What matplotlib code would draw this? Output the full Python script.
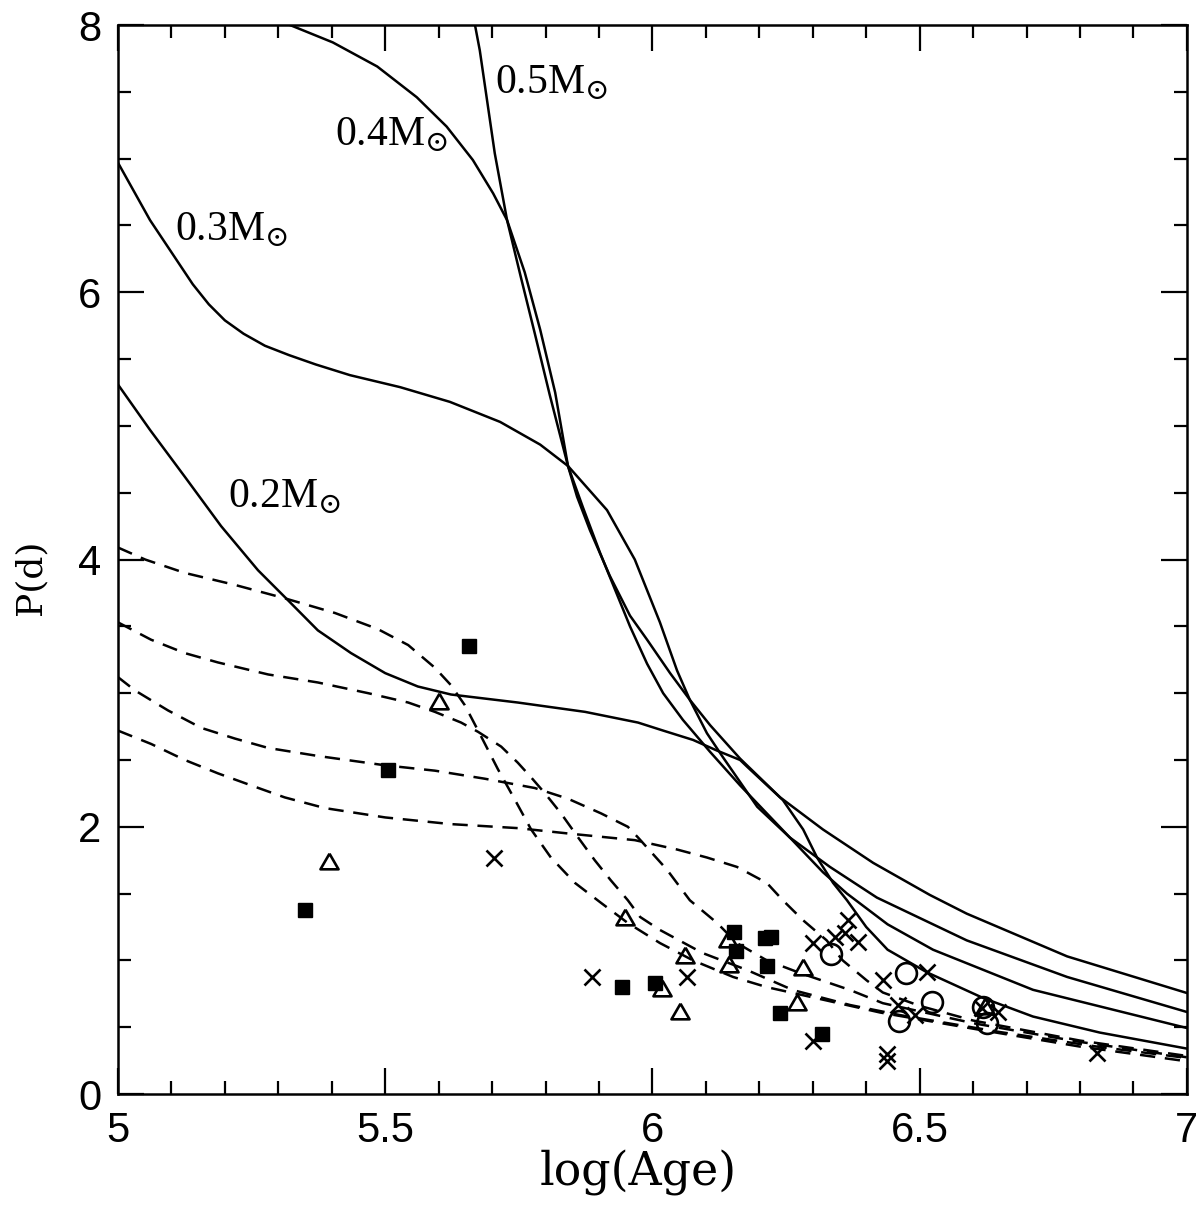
import matplotlib
matplotlib.use('Agg')
import matplotlib.pyplot as plt
from matplotlib.ticker import MultipleLocator, FixedLocator, FixedFormatter

# --- model tracks (solid) : log(Age), P(d) ---
m02_x = [5.000, 5.060, 5.125, 5.193, 5.262, 5.312, 5.374, 5.436, 5.500, 5.561, 5.623, 5.748, 5.874,
         5.973, 6.020, 6.076, 6.121, 6.164, 6.177, 6.244, 6.282, 6.308, 6.338, 6.364, 6.400, 6.440,
         6.514, 6.618, 6.712, 6.837, 7.000]
m02_y = [5.31, 4.97, 4.62, 4.25, 3.92, 3.72, 3.47, 3.30, 3.15, 3.05, 2.99, 2.93, 2.86,
         2.78, 2.72, 2.65, 2.57, 2.50, 2.45, 2.20, 1.98, 1.77, 1.58, 1.45, 1.25, 1.08,
         0.91, 0.72, 0.58, 0.46, 0.34]

m03_x = [5.000, 5.060, 5.110, 5.140, 5.170, 5.200, 5.235, 5.275, 5.320, 5.370, 5.434, 5.528, 5.621,
         5.715, 5.790, 5.842, 5.915, 5.967, 5.982, 6.014, 6.046, 6.070, 6.102, 6.132, 6.196, 6.257,
         6.319, 6.364, 6.440, 6.525, 6.712, 7.000]
m03_y = [6.97, 6.54, 6.24, 6.06, 5.91, 5.79, 5.69, 5.60, 5.53, 5.46, 5.38, 5.29, 5.18,
         5.03, 4.86, 4.70, 4.37, 4.00, 3.85, 3.53, 3.17, 2.95, 2.70, 2.52, 2.15, 1.92,
         1.66, 1.50, 1.27, 1.08, 0.78, 0.494]

m04_x = [5.280, 5.322, 5.402, 5.485, 5.559, 5.615, 5.664, 5.702, 5.728, 5.761, 5.790, 5.818, 5.842,
         5.870, 5.902, 5.958, 5.990, 6.020, 6.057, 6.108, 6.164, 6.257, 6.332, 6.420, 6.588,
         6.776, 7.000]
m04_y = [8.07, 8.00, 7.87, 7.69, 7.46, 7.24, 6.99, 6.74, 6.54, 6.15, 5.72, 5.25, 4.70,
         4.39, 4.05, 3.50, 3.22, 3.00, 2.80, 2.56, 2.31, 1.92, 1.70, 1.47, 1.15,
         0.876, 0.614]

m05_x = [5.662, 5.668, 5.677, 5.705, 5.728, 5.754, 5.780, 5.808, 5.842, 5.859, 5.883, 5.920, 5.958,
         5.990, 6.033, 6.070, 6.108, 6.164, 6.239, 6.319, 6.413, 6.519, 6.588, 6.776, 7.000]
m05_y = [8.12, 8.00, 7.81, 7.04, 6.54, 6.11, 5.69, 5.23, 4.70, 4.47, 4.22, 3.88, 3.58,
         3.40, 3.15, 2.95, 2.76, 2.51, 2.22, 1.98, 1.73, 1.49, 1.35, 1.03, 0.756]

# --- model tracks (dashed) ---
d1_x = [5.000, 5.051, 5.125, 5.219, 5.312, 5.406, 5.486, 5.543, 5.593, 5.623, 5.649, 5.679, 5.711,
        5.743, 5.773, 5.810, 5.855, 5.904, 5.954, 6.014, 6.076, 6.151, 6.214, 6.326, 6.426, 6.613,
        6.800, 7.000]
d1_y = [4.09, 4.00, 3.90, 3.81, 3.71, 3.60, 3.48, 3.36, 3.19, 3.06, 2.91, 2.68, 2.43,
        2.20, 1.98, 1.77, 1.58, 1.43, 1.28, 1.13, 1.00, 0.876, 0.80, 0.70, 0.61, 0.48,
        0.355, 0.245]

d2_x = [5.000, 5.062, 5.125, 5.187, 5.281, 5.374, 5.468, 5.543, 5.593, 5.642, 5.674, 5.717, 5.748,
        5.773, 5.799, 5.829, 5.861, 5.892, 5.922, 5.954, 5.977, 6.014, 6.094, 6.177, 6.263, 6.370,
        6.463, 6.650, 6.837, 7.000]
d2_y = [3.53, 3.40, 3.30, 3.23, 3.14, 3.08, 3.00, 2.93, 2.86, 2.78, 2.71, 2.60, 2.48,
        2.37, 2.25, 2.10, 1.92, 1.75, 1.60, 1.45, 1.325, 1.228, 1.055, 0.928, 0.778, 0.666,
        0.591, 0.464, 0.352, 0.27]

d3_x = [5.000, 5.032, 5.094, 5.156, 5.219, 5.281, 5.374, 5.500, 5.593, 5.686, 5.780, 5.842, 5.904,
        5.954, 5.973, 6.027, 6.070, 6.121, 6.158, 6.214, 6.276, 6.370, 6.431, 6.600, 6.800, 7.000]
d3_y = [3.12, 3.02, 2.87, 2.74, 2.66, 2.59, 2.53, 2.46, 2.42, 2.36, 2.29, 2.21, 2.10,
        2.00, 1.92, 1.68, 1.45, 1.28, 1.13, 1.00, 0.906, 0.778, 0.68, 0.53, 0.39, 0.275]

d4_x = [5.000, 5.062, 5.125, 5.187, 5.249, 5.312, 5.387, 5.500, 5.623, 5.748, 5.842, 5.967, 6.046,
        6.102, 6.158, 6.214, 6.244, 6.282, 6.326, 6.356, 6.401, 6.431, 6.500, 6.600, 6.800, 7.000]
d4_y = [2.72, 2.62, 2.50, 2.40, 2.31, 2.22, 2.14, 2.07, 2.02, 1.99, 1.95, 1.90, 1.83,
        1.77, 1.70, 1.58, 1.45, 1.30, 1.15, 1.00, 0.85, 0.76, 0.66, 0.55, 0.40, 0.285]

# --- observed stars ---
sq_x = [5.350, 5.505, 5.657, 5.943, 6.005, 6.152, 6.156, 6.210, 6.222, 6.214, 6.239, 6.317]
sq_y = [1.377, 2.425, 3.353, 0.801, 0.831, 1.213, 1.070, 1.168, 1.175, 0.958, 0.606, 0.449]

tri_x = [5.395, 5.601, 5.949, 6.061, 6.018, 6.051, 6.141, 6.143, 6.282, 6.270, 6.622]
tri_y = [1.744, 2.942, 1.325, 1.040, 0.793, 0.621, 1.160, 0.973, 0.951, 0.689, 0.659]

crs_x = [5.703, 5.887, 6.065, 6.300, 6.300, 6.341, 6.366, 6.360, 6.384, 6.431, 6.514, 6.459,
         6.491, 6.439, 6.439, 6.617, 6.646, 6.832]
crs_y = [1.766, 0.876, 0.876, 1.130, 0.397, 1.175, 1.302, 1.205, 1.138, 0.853, 0.913, 0.666,
         0.591, 0.299, 0.247, 0.644, 0.614, 0.307]

circ_x = [6.334, 6.474, 6.523, 6.461, 6.618, 6.626]
circ_y = [1.048, 0.906, 0.689, 0.546, 0.651, 0.531]

mass_labels = ['0.2', '0.3', '0.4', '0.5']
label_x = [5.206, 5.107, 5.406, 5.705]
label_y = [4.39, 6.39, 7.10, 7.49]

xticks = [5, 5.5, 6, 6.5, 7]
xtick_labels = ['5', '5.5', '6', '6.5', '7']
yticks = [0, 2, 4, 6, 8]
ytick_labels = ['0', '2', '4', '6', '8']

plt.rcParams['mathtext.fontset'] = 'dejavuserif'
plt.rcParams['lines.scale_dashes'] = False

fig = plt.figure(figsize=(12, 12.16), dpi=100)
ax = fig.add_axes([0.0983, 0.1003, 0.8908, 0.8791])

lw = 1.8
for xs, ys in [(m02_x, m02_y), (m03_x, m03_y), (m04_x, m04_y), (m05_x, m05_y)]:
    ax.plot(xs, ys, color='black', lw=lw, solid_joinstyle='round')
for xs, ys in [(d1_x, d1_y), (d2_x, d2_y), (d3_x, d3_y), (d4_x, d4_y)]:
    ax.plot(xs, ys, color='black', lw=lw, linestyle=(0, (11, 7)))

mew = 1.9
ax.plot(sq_x, sq_y, linestyle='none', marker='s', ms=10, color='black')
tri = [(0, 0.433), (-0.5, -0.433), (0.5, -0.433), (0, 0.433)]
ax.plot(tri_x, tri_y, linestyle='none', marker=tri, ms=13, mfc='none', mec='black', mew=mew)
ax.plot(crs_x, crs_y, linestyle='none', marker='x', ms=11, mec='black', mew=mew)
ax.plot(circ_x, circ_y, linestyle='none', marker='o', ms=15, mfc='none', mec='black', mew=mew)

for m, lx, ly in zip(mass_labels, label_x, label_y):
    ax.text(lx, ly, m + r'M$_{\odot}$', family='Liberation Serif', fontsize=30,
            ha='left', va='baseline')

ax.set_xlim(5, 7)
ax.set_ylim(0, 8)
ax.xaxis.set_major_locator(FixedLocator(xticks))
ax.xaxis.set_major_formatter(FixedFormatter(xtick_labels))
ax.xaxis.set_minor_locator(MultipleLocator(0.1))
ax.yaxis.set_major_locator(FixedLocator(yticks))
ax.yaxis.set_major_formatter(FixedFormatter(ytick_labels))
ax.yaxis.set_minor_locator(MultipleLocator(0.5))
ax.tick_params(which='both', direction='in', top=True, right=True, width=1.6)
ax.tick_params(which='major', length=19, pad=12)
ax.tick_params(which='minor', length=9.5)
for lab in ax.get_xticklabels() + ax.get_yticklabels():
    lab.set_family('Liberation Sans')
    lab.set_fontsize(30)
for s in ax.spines.values():
    s.set_linewidth(1.8)

ax.set_xlabel('log(Age)', family='DejaVu Serif', fontsize=33)
ax.set_ylabel('P(d)', family='DejaVu Serif', fontsize=26)
ax.xaxis.set_label_coords(0.487, -0.052)
ax.yaxis.set_label_coords(-0.066, 0.483)

fig.savefig('out.png', dpi=100)
